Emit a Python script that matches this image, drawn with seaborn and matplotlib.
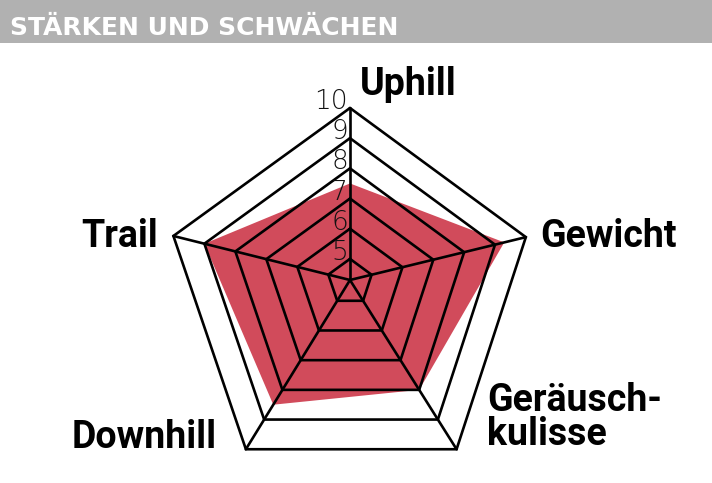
import numpy as np
import pandas as pd
import matplotlib
matplotlib.use("Agg")
import matplotlib.pyplot as plt
from matplotlib import font_manager
import seaborn as sns

# ----- Dati -----
categories = ["Uphill", "Gewicht", "Geräusch-\nkulisse", "Downhill", "Trail"]
scores = [7.5, 9.3, 8.0, 8.5, 9.0]
ring_levels = [5, 6, 7, 8, 9, 10]
tick_labels = ["5", "6", "7", "8", "9", "10"]
title = "STÄRKEN UND SCHWÄCHEN"

# ----- Layout (pixel) -----
W, H = 712, 483
cx, cy = 350, 280
r_min, r_max = 4.3, 10.0
spoke_angle = np.radians([90, 13.7, -57.8, -121.6, 166.0])
spoke_len = np.array([172, 181, 200, 198.7, 182])

red = "#d14b5b"
band = "#b1b1b1"


def to_xy(values):
    """valori -> coordinate pixel sui raggi del radar"""
    r = spoke_len * (np.asarray(values, dtype=float) - r_min) / (r_max - r_min)
    x = cx + r * np.cos(spoke_angle)
    y = cy - r * np.sin(spoke_angle)
    return np.append(x, x[0]), np.append(y, y[0])


def narrow_font():
    # cerca un font stretto (Narrow / Condensed) tra quelli installati
    for f in font_manager.fontManager.ttflist:
        s = str(f.stretch)
        if "Narrow" in f.name or "Condensed" in f.name or s in ("condensed", "semi-condensed"):
            return f.name
    return None


sns.set_theme(style="white")
plt.rcParams["font.family"] = ["Roboto", "DejaVu Sans"]
nf = narrow_font()
title_family = [nf, "DejaVu Sans"] if nf else ["Roboto", "DejaVu Sans"]

fig = plt.figure(figsize=(W / 100, H / 100), dpi=100)
ax = fig.add_axes([0, 0, 1, 1])

# poligono rosso
px, py = to_xy(scores)
ax.fill(px, py, color=red, lw=0, zorder=1)

# anelli + raggi
rows = []
for lvl in ring_levels:
    rx, ry = to_xy([lvl] * len(categories))
    for i, (a, b) in enumerate(zip(rx, ry)):
        rows.append({"ring": f"r{lvl}", "i": i, "x": a, "y": b})
ox, oy = to_xy([r_max] * len(categories))
for k in range(len(categories)):
    rows.append({"ring": f"s{k}", "i": 0, "x": cx, "y": cy})
    rows.append({"ring": f"s{k}", "i": 1, "x": ox[k], "y": oy[k]})
grid = pd.DataFrame(rows)
sns.lineplot(data=grid, x="x", y="y", units="ring", estimator=None, sort=False,
             color="black", lw=1.9, ax=ax, zorder=2, solid_joinstyle="miter")
ax.set_xlim(0, W)
ax.set_ylim(H, 0)
ax.axis("off")

# etichette scala
for lvl, lab in zip(ring_levels, tick_labels):
    ty = cy - spoke_len[0] * (lvl - r_min) / (r_max - r_min)
    ax.text(cx - 2, ty + 1, lab, ha="right", va="baseline", fontsize=19,
            fontweight="light", color="#111111", zorder=3,
            family=title_family)

# etichette categorie
lab_kw = dict(fontsize=27, fontweight="bold", color="black", va="baseline")
ax.text(360, 95, categories[0], ha="left", **lab_kw)
ax.text(540, 247, categories[1], ha="left", **lab_kw)
ax.text(487, 411, "Geräusch-", ha="left", **lab_kw)
ax.text(487, 445, "kulisse", ha="left", **lab_kw)
ax.text(217, 448, categories[3], ha="right", **lab_kw)
ax.text(158, 247, categories[4], ha="right", **lab_kw)

# barra del titolo (dimensione adattata alla larghezza)
ax.axhspan(0, 43, color=band, lw=0, zorder=0)
t = ax.text(10, 35, title, ha="left", va="baseline", fontsize=25, fontweight="bold",
            color="white", family=title_family)
fig.canvas.draw()
w = t.get_window_extent().width
if w > 390:
    t.set_fontsize(25 * 390 / w)

fig.savefig("out.png", dpi=100)
